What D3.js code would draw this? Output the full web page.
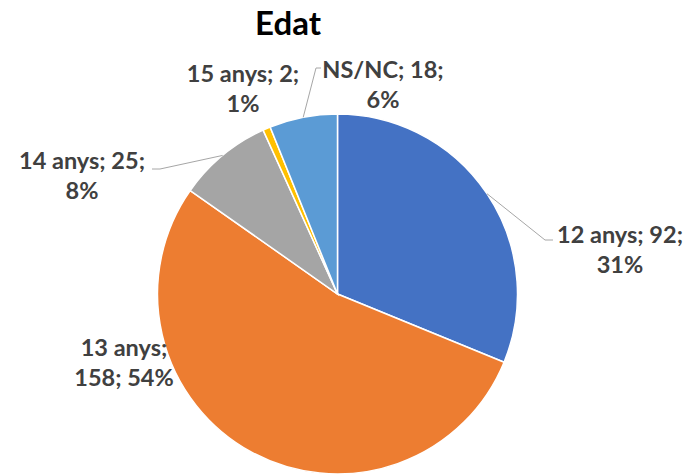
<!DOCTYPE html>
<html>
<head>
<meta charset="utf-8">
<script src="https://cdn.jsdelivr.net/npm/d3@7"></script>
<style>
  body { margin: 0; background: #fff; }
  text { font-family: "Lato", "Open Sans", sans-serif; font-weight: bold; }
</style>
</head>
<body>
<div id="chart"></div>
<script>
const categories = ["12 anys", "13 anys", "14 anys", "15 anys", "NS/NC"];
const values = [92, 158, 25, 2, 18];
const percents = ["31%", "54%", "8%", "1%", "6%"];
const colors = ["#4472C4", "#ED7D31", "#A5A5A5", "#FFC000", "#5B9BD5"];

// label layout: two lines each, center x and first baseline
const labelLines = [
  ["12 anys; 92;", "31%"],
  ["13 anys;", "158; 54%"],
  ["14 anys; 25;", "8%"],
  ["15 anys; 2;", "1%"],
  ["NS/NC; 18;", "6%"]
];
const labelPos = [[620, 243], [124, 356], [82, 169], [243, 82], [383, 78]];
// leader line elbow points (null = no leader)
const leaders = [[[545, 240], [553, 240]], null, [[160, 169], [152, 169]], null, [[316, 68], [321, 68]]];

const width = 690, height = 475;
const cx = 337.5, cy = 294, radius = 180;

const svg = d3.select("#chart").append("svg")
  .attr("width", width).attr("height", height);

svg.append("text")
  .attr("x", 288).attr("y", 35)
  .attr("text-anchor", "middle")
  .attr("font-size", 33)
  .attr("fill", "#000")
  .text("Edat");

const pie = d3.pie().sort(null).value(d => d)(values);
const arc = d3.arc().innerRadius(0).outerRadius(radius);
const edge = d3.arc().innerRadius(radius).outerRadius(radius);

const g = svg.append("g").attr("transform", `translate(${cx},${cy})`);

g.selectAll("path.slice")
  .data(pie)
  .enter()
  .append("path")
  .attr("class", "slice")
  .attr("d", arc)
  .attr("fill", (d, i) => colors[i])
  .attr("stroke", "#fff")
  .attr("stroke-width", 1.5);

// leader lines
pie.forEach((d, i) => {
  if (!leaders[i]) return;
  const [ex, ey] = edge.centroid(d);
  const pts = [[ex + cx, ey + cy]].concat(leaders[i]);
  svg.append("path")
    .attr("d", d3.line()(pts))
    .attr("fill", "none")
    .attr("stroke", "#A6A6A6")
    .attr("stroke-width", 1);
});

labelLines.forEach((lines, i) => {
  const t = svg.append("text")
    .attr("text-anchor", "middle")
    .attr("font-size", 23.5)
    .attr("fill", "#404040");
  lines.forEach((s, j) => {
    t.append("tspan")
      .attr("x", labelPos[i][0])
      .attr("y", labelPos[i][1] + j * 30)
      .text(s);
  });
});
</script>
</body>
</html>
